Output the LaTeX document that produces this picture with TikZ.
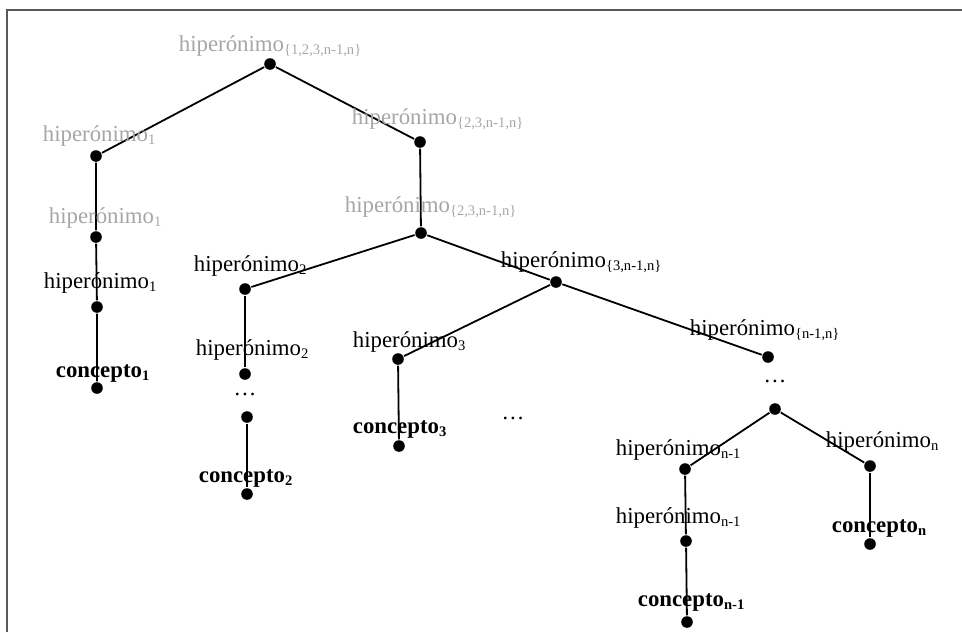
\documentclass[tikz,border=0pt]{standalone}
\usepackage{fontspec}
\setmainfont{Liberation Serif}
\definecolor{oldgray}{HTML}{A6A6A6}
\newcommand{\hsub}[1]{\raisebox{-1.8pt}{\fontsize{7.3}{8}\selectfont #1}}
\tikzset{
  dot/.style={circle, fill=black, inner sep=0pt, minimum size=5.8pt},
  lbl/.style={anchor=base west, inner sep=0pt, font=\fontsize{11.4}{13}\selectfont},
  old/.style={lbl, text=oldgray},
  cpt/.style={lbl, font=\fontsize{11.4}{13}\selectfont\bfseries},
  dots/.style={inner sep=0pt, font=\fontsize{11.4}{13}\selectfont},
}
\begin{document}
\begin{tikzpicture}[x=0.5pt, y=-0.5pt, line width=0.9pt]

\useasboundingbox (0,0) rectangle (962,632);
\draw[line width=0.7pt, black!65] (7,632) -- (7,10) -- (962,10);

% dots
\node[dot] (top) at (270,64) {};
\node[dot] (a1) at (96,156) {};
\node[dot] (a2) at (96,237) {};
\node[dot] (a3) at (97,307) {};
\node[dot] (c1) at (97,388) {};
\node[dot] (b1) at (420,142) {};
\node[dot] (b2) at (421,233) {};
\node[dot] (h2) at (245,289) {};
\node[dot] (h2b) at (245,374) {};
\node[dot] (h2c) at (247,417) {};
\node[dot] (c2) at (247,494) {};
\node[dot] (h3n) at (556,282) {};
\node[dot] (h3) at (398,359) {};
\node[dot] (c3) at (399,446) {};
\node[dot] (hnn) at (768,357) {};
\node[dot] (hfork) at (775,409) {};
\node[dot] (hm) at (685,469) {};
\node[dot] (hmb) at (686,541) {};
\node[dot] (cm) at (687,622) {};
\node[dot] (hn) at (870,466) {};
\node[dot] (cn) at (870,544) {};

% edges
\draw (top) -- (a1);
\draw (top) -- (b1);
\draw (a1) -- (a2) -- (a3) -- (c1);
\draw (b1) -- (b2);
\draw (b2) -- (h2);
\draw (b2) -- (h3n);
\draw (h2) -- (h2b);
\draw (h2c) -- (c2);
\draw (h3n) -- (h3);
\draw (h3n) -- (hnn);
\draw (h3) -- (c3);
\draw (hfork) -- (hm);
\draw (hfork) -- (hn);
\draw (hm) -- (hmb) -- (cm);
\draw (hn) -- (cn);

% labels
\node[old] (ltop) at (178,51) {hiperónimo\hsub{\{1,2,3,n-1,n\}}};
\node[old] (la1) at (42,141) {hiperónimo\hsub{1}};
\node[old] (la2) at (48,223) {hiperónimo\hsub{1}};
\node[lbl] (la3) at (43,288) {hiperónimo\hsub{1}};
\node[cpt] (lc1) at (55,377) {concepto\hsub{1}};
\node[old] (lb1) at (351,124) {hiperónimo\hsub{\{2,3,n-1,n\}}};
\node[old] (lb2) at (344,212) {hiperónimo\hsub{\{2,3,n-1,n\}}};
\node[lbl] (lh2) at (193,271) {hiperónimo\hsub{2}};
\node[lbl] (lh3n) at (500,267) {hiperónimo\hsub{\{3,n-1,n\}}};
\node[lbl] (lh2b) at (195,355) {hiperónimo\hsub{2}};
\node[lbl] (lh3) at (352,347) {hiperónimo\hsub{3}};
\node[cpt] (lc2) at (198,482) {concepto\hsub{2}};
\node[cpt] (lc3) at (352,433) {concepto\hsub{3}};
\node[lbl] (lhnn) at (689,335) {hiperónimo\hsub{\{n-1,n\}}};
\node[lbl] (lhm) at (615,455) {hiperónimo\hsub{n-1}};
\node[lbl] (lhn) at (825,447) {hiperónimo\hsub{n}};
\node[lbl] (lhmb) at (615,523) {hiperónimo\hsub{n-1}};
\node[cpt] (lcn) at (831,532) {concepto\hsub{n}};
\node[cpt] (lcm) at (637,606) {concepto\hsub{n-1}};

\node[dots] (e2) at (245,394) {\dots};
\node[dots] (enn) at (775,381) {\dots};
\node[dots] (emid) at (513,418) {\dots};

\end{tikzpicture}
\end{document}
